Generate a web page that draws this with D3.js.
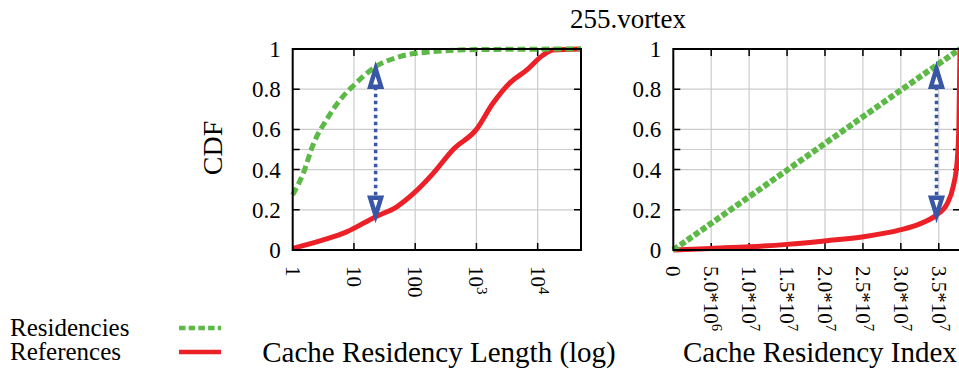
<!DOCTYPE html>
<html>
<head>
<meta charset="utf-8">
<script src="https://cdn.jsdelivr.net/npm/d3@7"></script>
<style>
  html, body { margin: 0; padding: 0; background: #fff; }
  svg { display: block; }
  text { font-family: "Liberation Serif", "Times New Roman", serif; fill: #000; }
</style>
</head>
<body>
<svg id="chart" width="959" height="369"></svg>
<script>
// --- data ---
var title = '255.vortex';
var seriesNames = ['Residencies', 'References'];

// left panel: CDF over cache residency length (log x)
var lengthResidencies = [
    [1, 0.274], [1.48, 0.38], [2.19, 0.53], [3.55, 0.647], [5.9, 0.746],
    [10, 0.82], [22.6, 0.912], [56, 0.962], [195, 0.987], [1000, 0.997], [51000, 1.0]
];
var lengthReferences = [
    [1, 0.008], [3.16, 0.05], [7.6, 0.09], [22.6, 0.166], [50, 0.215],
    [93, 0.28], [195, 0.38], [417, 0.50], [1000, 0.60], [1860, 0.73],
    [3470, 0.83], [6600, 0.895], [12300, 0.97], [17800, 0.995], [51000, 1.0]
];
var lengthTicks = [1, 10, 100, 1000, 10000];
var lengthTickLabels = [['1'], ['10'], ['100'], ['10', '3'], ['10', '4']];

// right panel: CDF over cache residency index (linear x)
var indexResidencies = [
    [0, 0], [1e7, 0.265], [2e7, 0.53], [3e7, 0.795], [3.78e7, 1.0]
];
var indexReferences = [
    [0, 0], [5e6, 0.008], [1.01e7, 0.016], [1.5e7, 0.028], [2.02e7, 0.046],
    [2.51e7, 0.066], [2.99e7, 0.1], [3.25e7, 0.13], [3.47e7, 0.174],
    [3.61e7, 0.23], [3.69e7, 0.315], [3.74e7, 0.43], [3.765e7, 0.61], [3.78e7, 1.0]
];
var indexTicks = [0, 5e6, 1e7, 1.5e7, 2e7, 2.5e7, 3e7, 3.5e7];
var indexTickLabels = [['0'], ['5.0*10', '6'], ['1.0*10', '7'], ['1.5*10', '7'],
    ['2.0*10', '7'], ['2.5*10', '7'], ['3.0*10', '7'], ['3.5*10', '7']];

var yTicks = [0, 0.2, 0.4, 0.6, 0.8, 1];
var yGrid = [0.2, 0.4, 0.5, 0.6, 0.8];

// arrows: [x, top cdf, bottom cdf]
var lengthArrow = [22.6, 0.912, 0.166];
var indexArrow = [3.47e7, 0.912, 0.166];

var colors = { res: '#5cb946', ref: '#ec2027', arrow: '#3a57a6', grid: '#cccccc' };

(function() {
    var svg = d3.select('#chart'),
        plotTop = 49,
        plotBottom = 250;

    var y = d3.scaleLinear().domain([0, 1]).range([plotBottom, plotTop]);

    var panels = [
        {
            x: d3.scaleLog().domain([1, 51000]).range([292.7, 581]),
            ticks: lengthTicks, labels: lengthTickLabels,
            res: lengthResidencies, ref: lengthReferences, arrow: lengthArrow,
            resDash: '8,4', resWidth: 5,
            title: 'Cache Residency Length (log)', titleX: 439, titleAnchor: 'middle'
        },
        {
            x: d3.scaleLinear().domain([0, 3.78e7]).range([673.3, 960]),
            ticks: indexTicks, labels: indexTickLabels,
            res: indexResidencies, ref: indexReferences, arrow: indexArrow,
            resDash: '6,2.5', resWidth: 6,
            title: 'Cache Residency Index', titleX: 683, titleAnchor: 'start'
        }
    ];

    panels.forEach(function(p) {
        var x = p.x,
            x0 = x.range()[0],
            x1 = x.range()[1],
            g = svg.append('g'),
            tickLen = 7;

        // grid
        g.selectAll('.vgrid').data(p.ticks.slice(1)).enter().append('line')
            .attr('x1', function(d) { return x(d); })
            .attr('x2', function(d) { return x(d); })
            .attr('y1', plotTop).attr('y2', plotBottom)
            .attr('stroke', colors.grid).attr('stroke-width', 1.2);
        g.selectAll('.hgrid').data(yGrid).enter().append('line')
            .attr('x1', x0).attr('x2', x1)
            .attr('y1', function(d) { return y(d); })
            .attr('y2', function(d) { return y(d); })
            .attr('stroke', colors.grid).attr('stroke-width', 1.2);

        // tick marks on all four sides, pointing inward
        g.selectAll('.xt').data(p.ticks.slice(1)).enter().append('path')
            .attr('d', function(d) {
                return 'M' + x(d) + ',' + plotBottom + 'v' + (-tickLen) +
                    'M' + x(d) + ',' + plotTop + 'v' + tickLen;
            })
            .attr('stroke', '#000').attr('stroke-width', 1.5);
        g.selectAll('.yt').data(yGrid).enter().append('path')
            .attr('d', function(d) {
                return 'M' + x0 + ',' + y(d) + 'h' + tickLen +
                    'M' + x1 + ',' + y(d) + 'h' + (-tickLen);
            })
            .attr('stroke', '#000').attr('stroke-width', 1.5);

        // y tick labels
        g.selectAll('.yl').data(yTicks).enter().append('text')
            .attr('x', x0 - 12)
            .attr('y', function(d) { return y(d) + 8; })
            .attr('text-anchor', 'end')
            .style('font-size', '23px')
            .text(function(d) { return d3.format('~g')(d); });

        // x tick labels, rotated, with superscripts
        var xl = g.selectAll('.xl').data(p.ticks).enter().append('text')
            .attr('transform', function(d) { return 'translate(' + (x(d) - 7) + ',266) rotate(90)'; })
            .style('font-size', '21px');
        xl.append('tspan')
            .text(function(d, i) { return p.labels[i][0]; });
        xl.append('tspan')
            .attr('dy', -8)
            .style('font-size', '15px')
            .text(function(d, i) { return p.labels[i][1] || ''; });

        // curves
        var line = d3.line()
            .x(function(d) { return x(d[0]); })
            .y(function(d) { return y(d[1]); })
            .curve(d3.curveMonotoneX);

        var clip = 'clip' + Math.round(x0);
        svg.append('clipPath').attr('id', clip).append('rect')
            .attr('x', x0 - 3).attr('y', plotTop - 3)
            .attr('width', x1 - x0 + 6).attr('height', plotBottom - plotTop + 6);

        g.append('path').datum(p.ref)
            .attr('d', line)
            .attr('clip-path', 'url(#' + clip + ')')
            .attr('fill', 'none').attr('stroke', colors.ref).attr('stroke-width', 5);
        g.append('path').datum(p.res)
            .attr('d', line)
            .attr('clip-path', 'url(#' + clip + ')')
            .attr('fill', 'none').attr('stroke', colors.res)
            .attr('stroke-width', p.resWidth).attr('stroke-dasharray', p.resDash);

        // double-headed dotted arrow between the two curves
        var ax = x(p.arrow[0]),
            ayTop = y(p.arrow[1]) + 2,
            ayBot = y(p.arrow[2]) - 1,
            headLen = 18, headHalf = 5.5;
        g.append('line')
            .attr('x1', ax).attr('x2', ax)
            .attr('y1', ayTop + headLen).attr('y2', ayBot - headLen)
            .attr('stroke', colors.arrow).attr('stroke-width', 3.5)
            .attr('stroke-dasharray', '3.5,3.5');
        g.append('path')
            .attr('d', 'M' + ax + ',' + ayTop + 'L' + (ax - headHalf) + ',' + (ayTop + headLen) +
                'L' + (ax + headHalf) + ',' + (ayTop + headLen) + 'Z' +
                'M' + ax + ',' + ayBot + 'L' + (ax - headHalf) + ',' + (ayBot - headLen) +
                'L' + (ax + headHalf) + ',' + (ayBot - headLen) + 'Z')
            .attr('fill', '#fff').attr('stroke', colors.arrow).attr('stroke-width', 4.5)
            .attr('stroke-linejoin', 'miter');

        // border
        g.append('rect')
            .attr('x', x0).attr('y', plotTop).attr('width', x1 - x0).attr('height', plotBottom - plotTop)
            .attr('fill', 'none').attr('stroke', '#000').attr('stroke-width', 2);

        // axis title
        svg.append('text')
            .attr('x', p.titleX).attr('y', 362)
            .attr('text-anchor', p.titleAnchor)
            .style('font-size', '29px')
            .text(p.title);
    });

    // y axis title and chart title
    svg.append('text')
        .attr('transform', 'translate(222,148) rotate(-90)')
        .attr('text-anchor', 'middle')
        .style('font-size', '28px')
        .text('CDF');
    svg.append('text')
        .attr('x', 628).attr('y', 28)
        .attr('text-anchor', 'middle')
        .style('font-size', '27px')
        .text(title);

    // legend
    var legend = svg.append('g');
    var legendRows = [
        { name: seriesNames[0], y: 336, color: colors.res, dash: '6.5,3.2' },
        { name: seriesNames[1], y: 360, color: colors.ref, dash: null }
    ];
    legendRows.forEach(function(r) {
        legend.append('text')
            .attr('x', 10).attr('y', r.y)
            .style('font-size', '25px')
            .text(r.name);
        legend.append('line')
            .attr('x1', 179).attr('x2', 221)
            .attr('y1', r.y - 8).attr('y2', r.y - 8)
            .attr('stroke', r.color).attr('stroke-width', 4.7)
            .attr('stroke-dasharray', r.dash);
    });
})();
</script>
</body>
</html>
